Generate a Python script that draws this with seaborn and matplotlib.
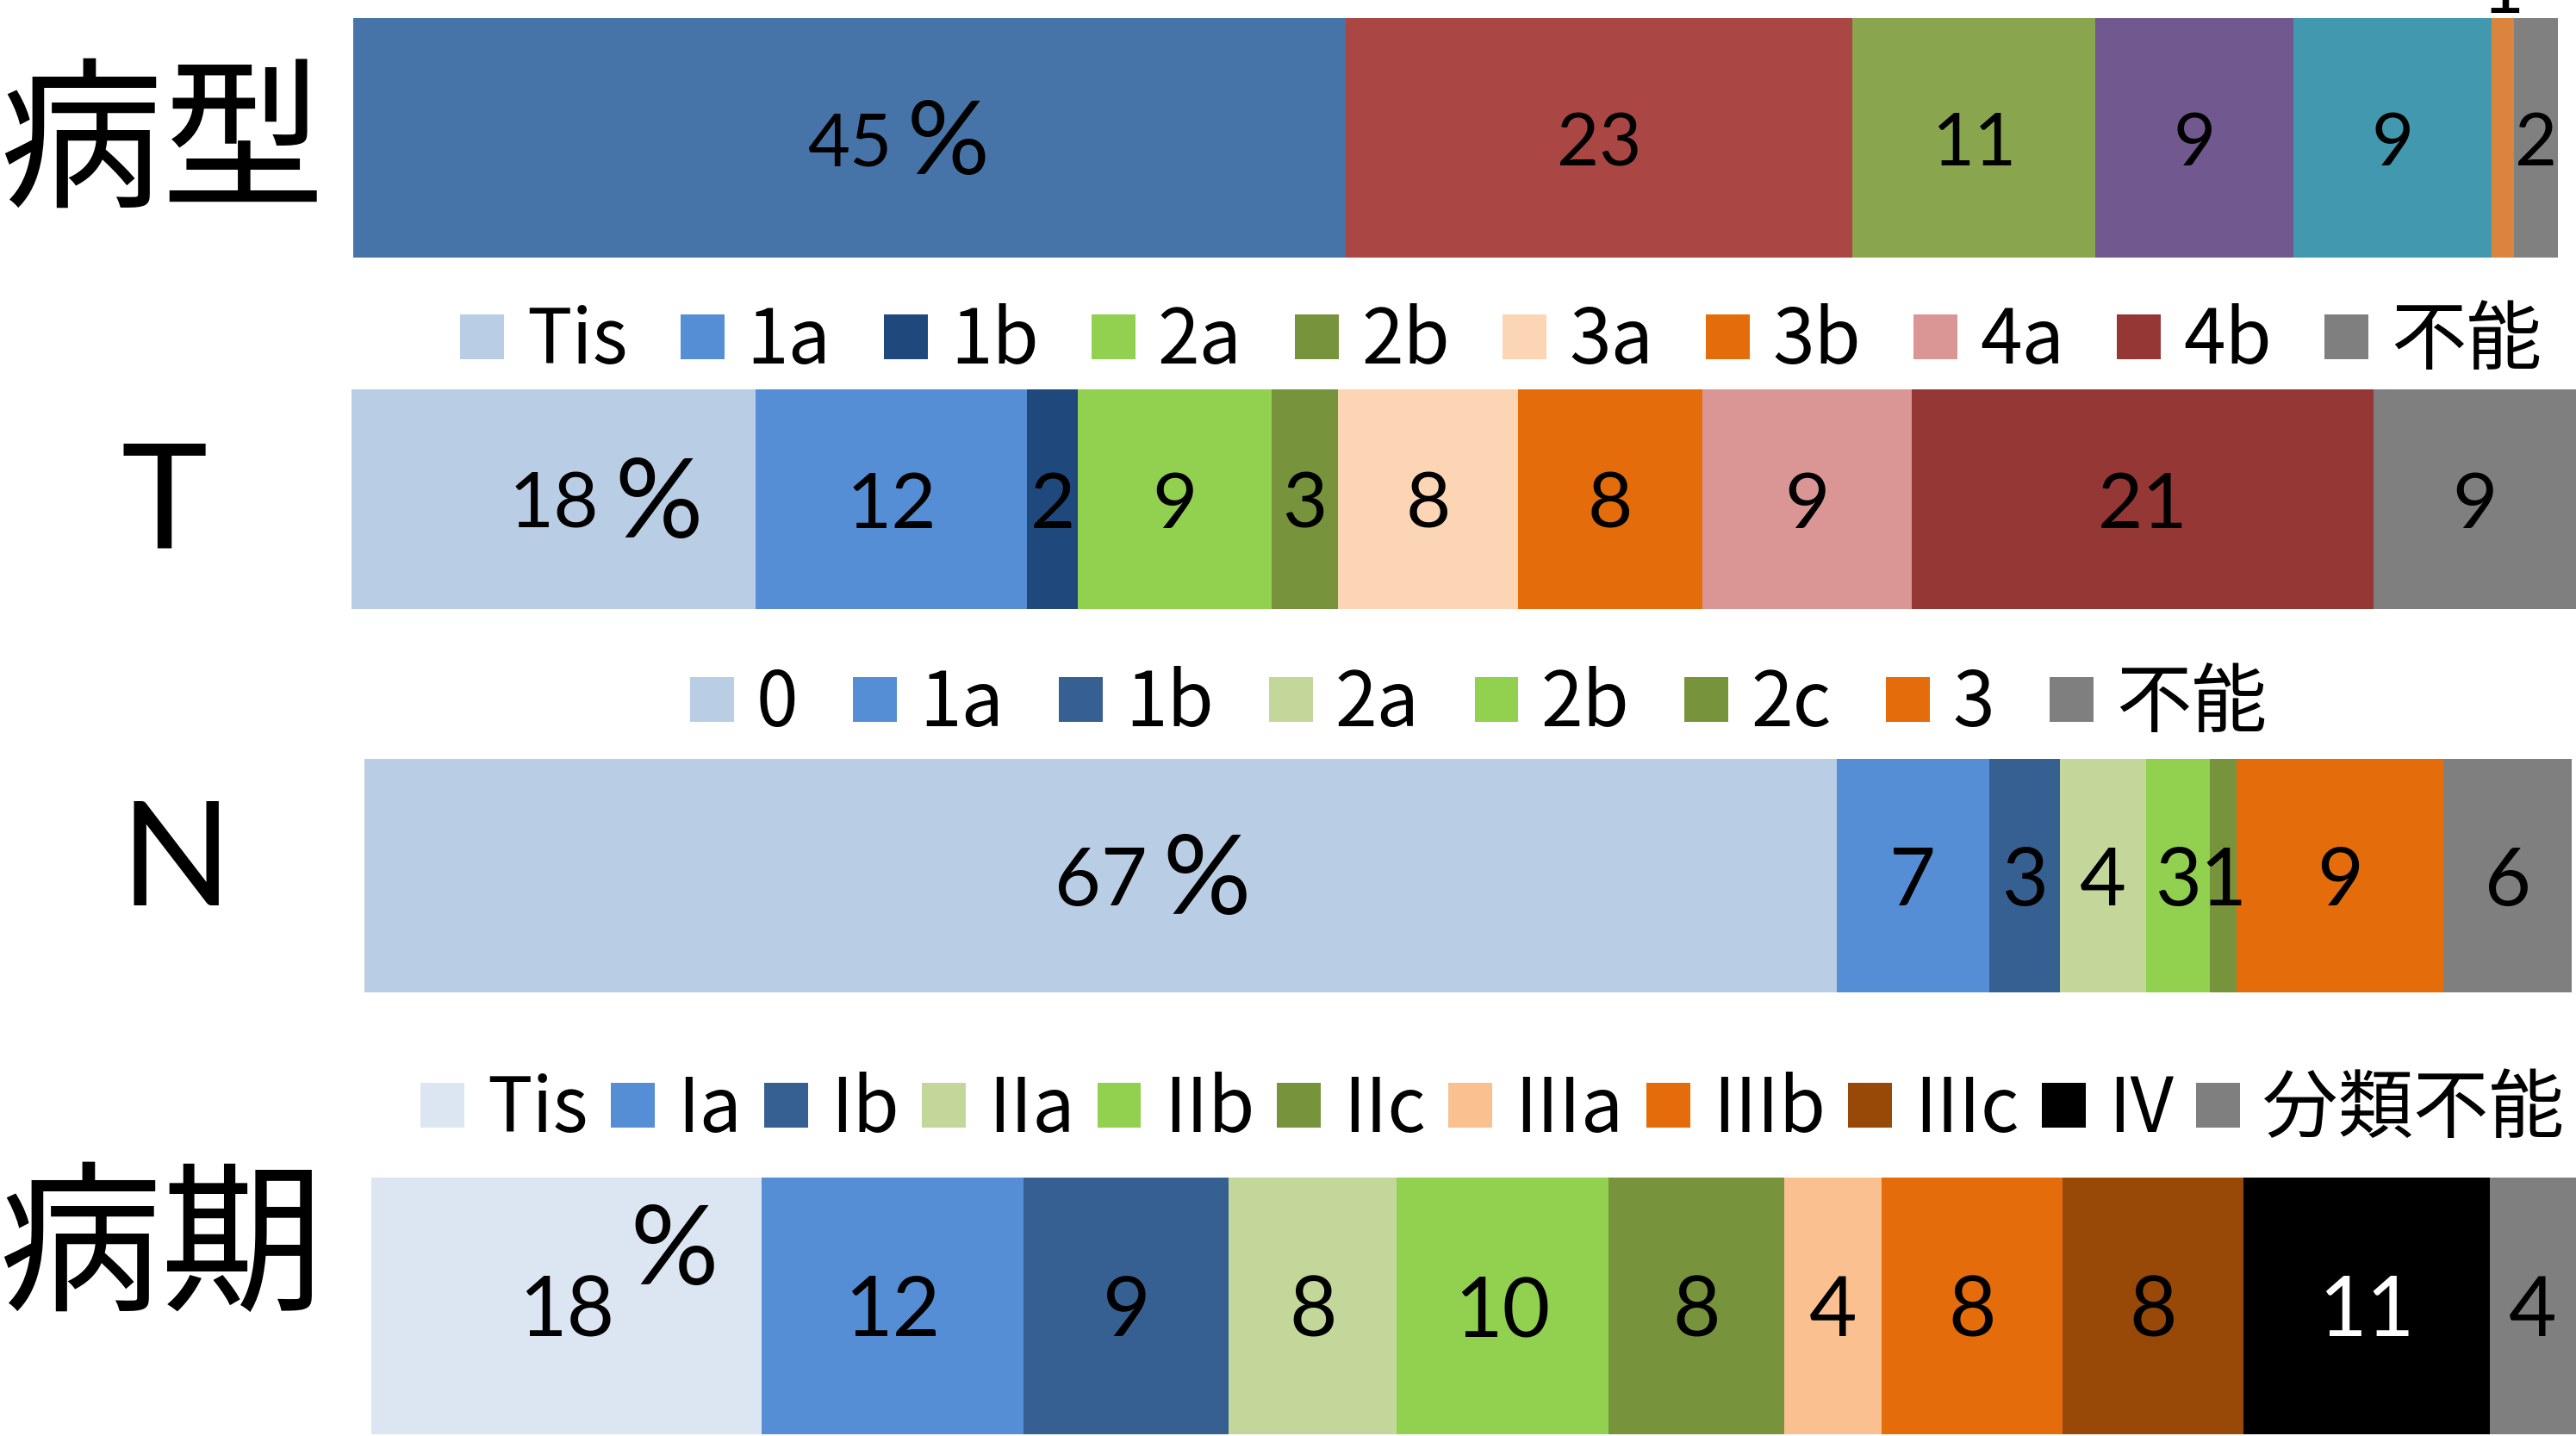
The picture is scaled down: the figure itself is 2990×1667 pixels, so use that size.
import numpy as np
import matplotlib
matplotlib.use('Agg')
import matplotlib.pyplot as plt
import seaborn as sns
from matplotlib.patches import Patch

# 病型 (no legend in the original)
type_cats = ['A', 'B', 'C', 'D', 'E', 'F', 'G']
type_vals = [45, 23, 11, 9, 9, 1, 2]
type_colors = ['#4674A9', '#AA4643', '#89A54E', '#71588F', '#4198AF', '#DB843D', '#808080']

# T
t_cats = ['Tis', '1a', '1b', '2a', '2b', '3a', '3b', '4a', '4b', '不能']
t_vals = [18.2, 12.2, 2.3, 8.7, 3.0, 8.1, 8.3, 9.4, 20.8, 9.1]
t_colors = ['#B9CDE5', '#558ED5', '#1F497D', '#92D050', '#77933C',
            '#FCD5B5', '#E46C0A', '#D99694', '#953735', '#7F7F7F']

# N
n_cats = ['0', '1a', '1b', '2a', '2b', '2c', '3', '不能']
n_vals = [66.7, 6.9, 3.2, 3.9, 2.9, 1.2, 9.4, 5.8]
n_colors = ['#B9CDE5', '#558ED5', '#376092', '#C4D79B', '#92D050',
            '#77933C', '#E46C0A', '#7F7F7F']

# 病期
stage_cats = ['Tis', 'Ia', 'Ib', 'IIa', 'IIb', 'IIc', 'IIIa', 'IIIb', 'IIIc', 'IV', '分類不能']
stage_vals = [17.7, 11.9, 9.3, 7.6, 9.6, 8.0, 4.4, 8.2, 8.2, 11.2, 3.9]
stage_colors = ['#DCE6F2', '#558ED5', '#376092', '#C4D79B', '#92D050', '#77933C',
                '#FAC090', '#E46C0A', '#984807', '#000000', '#7F7F7F']

W, H = 2990, 1667
NUM_FONT = ['Lato', 'Noto Sans CJK JP']
CJK_FONT = ['Noto Sans CJK JP', 'DejaVu Sans']
LEG_FONT = ['Liberation Sans Narrow', 'Noto Sans CJK JP']

# layout in pixels of the final image
panels = [
    dict(title='病型', cats=type_cats, vals=type_vals, colors=type_colors,
         box=(410, 21, 2969, 299), title_xy=(188, 172), title_size=136,
         num_size=61, pct_size=86, pct_dy=0, legend=None, colsp=0.7, above={5}),
    dict(title='T', cats=t_cats, vals=t_vals, colors=t_colors,
         box=(408, 452, 2990, 707), title_xy=(191, 588), title_size=122,
         num_size=65, pct_size=92, pct_dy=0, legend=(534, 397), colsp=0.7, above=set()),
    dict(title='N', cats=n_cats, vals=n_vals, colors=n_colors,
         box=(423, 881, 2985, 1152), title_xy=(204, 1003), title_size=122,
         num_size=67, pct_size=92, pct_dy=0, legend=(801, 818), colsp=0.73, above=set()),
    dict(title='病期', cats=stage_cats, vals=stage_vals, colors=stage_colors,
         box=(431, 1367, 2990, 1665), title_xy=(187, 1453), title_size=136,
         num_size=69, pct_size=92, pct_dy=50, legend=(488, 1289), colsp=0.3, above=set()),
]

sns.set_theme(style='white')
plt.rcParams['font.family'] = NUM_FONT
plt.rcParams['text.color'] = 'black'

fig = plt.figure(figsize=(W / 100, H / 100), dpi=100)


def draw_stack(ax, vals, colors):
    ends = np.cumsum(vals)
    # overlay cumulative bars, longest first
    for end, color in reversed(list(zip(ends, colors))):
        sns.barplot(x=[end], y=['row'], orient='h', color=color, width=1.0,
                    saturation=1, linewidth=0, errorbar=None, ax=ax)
    ax.set_xlim(0, ends[-1])
    ax.set_ylim(0.5, -0.5)
    ax.axis('off')
    return ends - np.asarray(vals) / 2


for p in panels:
    l, t, r, b = p['box']
    ax = fig.add_axes([l / W, 1 - b / H, (r - l) / W, (b - t) / H])
    centers = draw_stack(ax, p['vals'], p['colors'])

    for i, (c, v, col) in enumerate(zip(centers, p['vals'], p['colors'])):
        txt_color = 'white' if col == '#000000' else 'black'
        if i in p['above']:
            ax.annotate(f'{v:.0f}', xy=(c, 1.0), xycoords=('data', 'axes fraction'),
                        xytext=(0, 4), textcoords='offset points',
                        ha='center', va='baseline', fontsize=p['num_size'],
                        color=txt_color, annotation_clip=False)
            continue
        num = ax.annotate(f'{v:.0f}', xy=(c, 0), xycoords='data',
                          xytext=(0, -6), textcoords='offset points',
                          ha='center', va='center',
                          fontsize=p['num_size'], color=txt_color)
        if i == 0:
            ax.annotate('%', xy=(1, 0.5), xycoords=num,
                        xytext=(13, p['pct_dy']), textcoords='offset points',
                        ha='left', va='center', fontsize=p['pct_size'], color='black')

    fig.text(p['title_xy'][0] / W, 1 - p['title_xy'][1] / H, p['title'],
             ha='center', va='center', fontsize=p['title_size'], color='black',
             family=CJK_FONT if p['title'] in ('病型', '病期') else NUM_FONT)

    if p['legend'] is not None:
        lx, ly = p['legend']
        handles = [Patch(facecolor=c, edgecolor='none') for c in p['colors']]
        fig.legend(handles, p['cats'], loc='center left',
                   bbox_to_anchor=(lx / W, 1 - ly / H), ncol=len(p['cats']),
                   frameon=False, prop={'family': LEG_FONT, 'size': 63},
                   labelcolor='black',
                   handlelength=0.58, handleheight=0.55, handletextpad=0.3,
                   columnspacing=p['colsp'], borderpad=0, borderaxespad=0)

fig.savefig('out.png', dpi=100)
